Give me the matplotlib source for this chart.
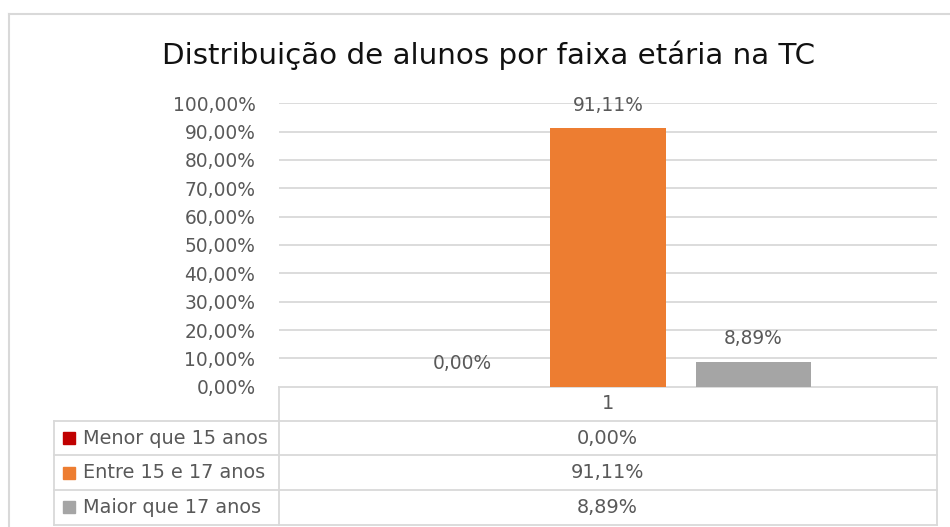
import matplotlib
matplotlib.use('Agg')
import matplotlib.pyplot as plt
from matplotlib.patches import Rectangle

# data
categories = ['1']
series_names = ['Menor que 15 anos', 'Entre 15 e 17 anos', 'Maior que 17 anos']
values = [0.00, 91.11, 8.89]
colors = ['#C00000', '#ED7D31', '#A5A5A5']
yticks = [0, 10, 20, 30, 40, 50, 60, 70, 80, 90, 100]
title = 'Distribuição de alunos por faixa etária na TC'

def pct(v):
    return ('%.2f' % v).replace('.', ',') + '%'

W, H = 950, 527
plt.rcParams['font.family'] = ['DejaVu Sans']
txt = '#595959'
grid = '#D9D9D9'
fs = 13.4     # axis + data labels
fs_tab = 13.9 # data table

fig = plt.figure(figsize=(W / 100, H / 100), dpi=100)

# overlay in pixel coordinates for frame + data table
ov = fig.add_axes([0, 0, 1, 1])
ov.set_xlim(0, W)
ov.set_ylim(H, 0)
ov.axis('off')

# chart frame
ov.plot([9, 9], [14, H], color=grid, lw=1.5)
ov.plot([9, W], [14, 14], color=grid, lw=1.5)

ov.text(489, 64, title, ha='center', va='baseline', fontsize=21.2, color='#111111')

# plot area
x0, x1, y_top, y_bot = 279, 937, 103.3, 386.7
ax = fig.add_axes([x0 / W, 1 - y_bot / H, (x1 - x0) / W, (y_bot - y_top) / H])
ax.set_xlim(0.5, 1.5)
ax.set_ylim(0, 100)
ax.set_yticks(yticks)
ax.set_yticklabels([pct(t) for t in yticks], color=txt, fontsize=fs)
ax.tick_params(axis='y', length=0, pad=17)
ax.set_xticks([])
for s in ax.spines.values():
    s.set_visible(False)
ax.grid(axis='y', color=grid, lw=1.3)
ax.set_axisbelow(True)

bw, step = 0.175, 0.221
for i, (v, c) in enumerate(zip(values, colors)):
    xc = 1 + (i - 1) * step
    ax.bar(xc, v, width=bw, color=c, zorder=2)
    ax.annotate(pct(v), (xc, v), xytext=(0, 16.5), textcoords='offset points',
                ha='center', va='center', color=txt, fontsize=fs)

# data table
tl, tm, tr = 54, 278.5, 937
rows = [386.7, 420.7, 455.3, 490, 524.5]
ov.plot([tm, tr], [rows[0], rows[0]], color=grid, lw=1.3)
for y in rows[1:]:
    ov.plot([tl, tr], [y, y], color=grid, lw=1.3)
ov.plot([tm, tm], [rows[0], rows[-1]], color=grid, lw=1.3)
ov.plot([tr, tr], [rows[0], rows[-1]], color=grid, lw=1.3)
ov.plot([tl, tl], [rows[1], rows[-1]], color=grid, lw=1.3)

xmid = (tm + tr) / 2
ov.text(xmid, (rows[0] + rows[1]) / 2, categories[0], ha='center', va='center',
        color=txt, fontsize=fs_tab)
for i, (name, v, c) in enumerate(zip(series_names, values, colors)):
    yc = (rows[i + 1] + rows[i + 2]) / 2
    ov.add_patch(Rectangle((63, yc - 6), 12, 12, color=c))
    ov.text(83, yc, name, ha='left', va='center', color=txt, fontsize=fs_tab)
    ov.text(xmid, yc, pct(v), ha='center', va='center', color=txt, fontsize=fs_tab)

fig.savefig('out.png', dpi=100, facecolor='white')
